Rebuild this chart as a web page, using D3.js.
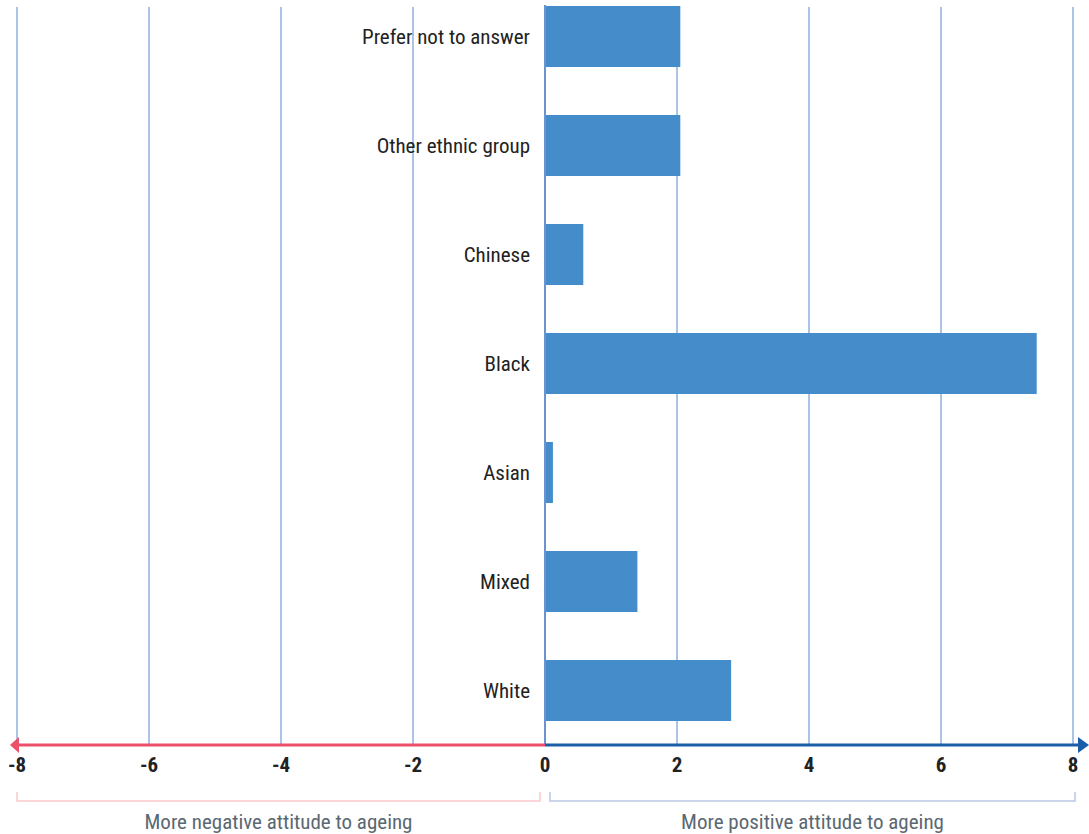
<!DOCTYPE html>
<html>
<head>
<meta charset="utf-8">
<script src="https://cdn.jsdelivr.net/npm/d3@7/dist/d3.min.js"></script>
<style>
  html, body { margin: 0; padding: 0; background: #fff; }
  svg { display: block; }
  text { font-family: "Liberation Sans Narrow", "Roboto Condensed", "Arial Narrow", Roboto, sans-serif; }
</style>
</head>
<body>
<svg id="chart" width="1089" height="834"></svg>
<script>
const categories = ["Prefer not to answer", "Other ethnic group", "Chinese", "Black", "Asian", "Mixed", "White"];
const values = [2.05, 2.05, 0.58, 7.45, 0.12, 1.4, 2.82];
const xTicks = [-8, -6, -4, -2, 0, 2, 4, 6, 8];
const sideLabels = ["More negative attitude to ageing", "More positive attitude to ageing"];

const svg = d3.select("#chart");
const axisY = 745;
const x = d3.scaleLinear().domain([-8, 8]).range([17, 1073]);
const y = d3.scaleBand().domain(categories).range([-18, axisY]).paddingInner(0.44).paddingOuter(0.22);

// gridlines
svg.append("g").selectAll("line").data(xTicks.filter(d => d !== 0)).join("line")
  .attr("x1", d => x(d)).attr("x2", d => x(d))
  .attr("y1", 7).attr("y2", axisY)
  .attr("stroke", "#7fa3d8").attr("stroke-width", 1.3);

// bars
svg.append("g").selectAll("rect").data(values).join("rect")
  .attr("x", (d) => Math.min(x(0), x(d)))
  .attr("width", d => Math.abs(x(d) - x(0)))
  .attr("y", (d, i) => y(categories[i]))
  .attr("height", y.bandwidth())
  .attr("fill", "#448dca");

// zero line
svg.append("line")
  .attr("x1", x(0)).attr("x2", x(0)).attr("y1", 5).attr("y2", axisY)
  .attr("stroke", "#6b93cf").attr("stroke-width", 2);

// category labels
svg.append("g").selectAll("text").data(categories).join("text")
  .attr("x", x(0) - 15)
  .attr("y", d => y(d) + y.bandwidth() / 2)
  .attr("dy", "0.35em")
  .attr("text-anchor", "end")
  .attr("font-size", 21)
  .attr("fill", "#222")
  .text(d => d);

// axis lines
svg.append("line").attr("x1", 16).attr("x2", x(0)).attr("y1", axisY).attr("y2", axisY)
  .attr("stroke", "#ec5068").attr("stroke-width", 3);
svg.append("line").attr("x1", x(0)).attr("x2", 1078).attr("y1", axisY).attr("y2", axisY)
  .attr("stroke", "#1b5ea8").attr("stroke-width", 3);
svg.append("path").attr("d", `M10,${axisY} L19,${axisY - 8} L19,${axisY + 8} Z`).attr("fill", "#ec5068");
svg.append("path").attr("d", `M1089,${axisY} L1078,${axisY - 8} L1078,${axisY + 8} Z`).attr("fill", "#1b5ea8");

// tick labels
svg.append("g").selectAll("text").data(xTicks).join("text")
  .attr("x", d => x(d))
  .attr("y", 772)
  .attr("text-anchor", "middle")
  .attr("font-size", 21)
  .attr("font-weight", "bold")
  .attr("fill", "#222")
  .text(d => d);

// brackets
const brackets = [
  { x1: x(-8), x2: x(0) - 5, color: "#f9c9cd", label: sideLabels[0] },
  { x1: x(0) + 5, x2: x(8) + 2, color: "#b9c7e6", label: sideLabels[1] }
];
const bg = svg.append("g");
brackets.forEach(b => {
  bg.append("path")
    .attr("d", `M${b.x1},792 L${b.x1},801 L${b.x2},801 L${b.x2},792`)
    .attr("fill", "none").attr("stroke", b.color).attr("stroke-width", 1.5);
  bg.append("text")
    .attr("x", (b.x1 + b.x2) / 2).attr("y", 829)
    .attr("text-anchor", "middle")
    .attr("font-size", 21)
    .attr("fill", "#5a6872")
    .text(b.label);
});
</script>
</body>
</html>
